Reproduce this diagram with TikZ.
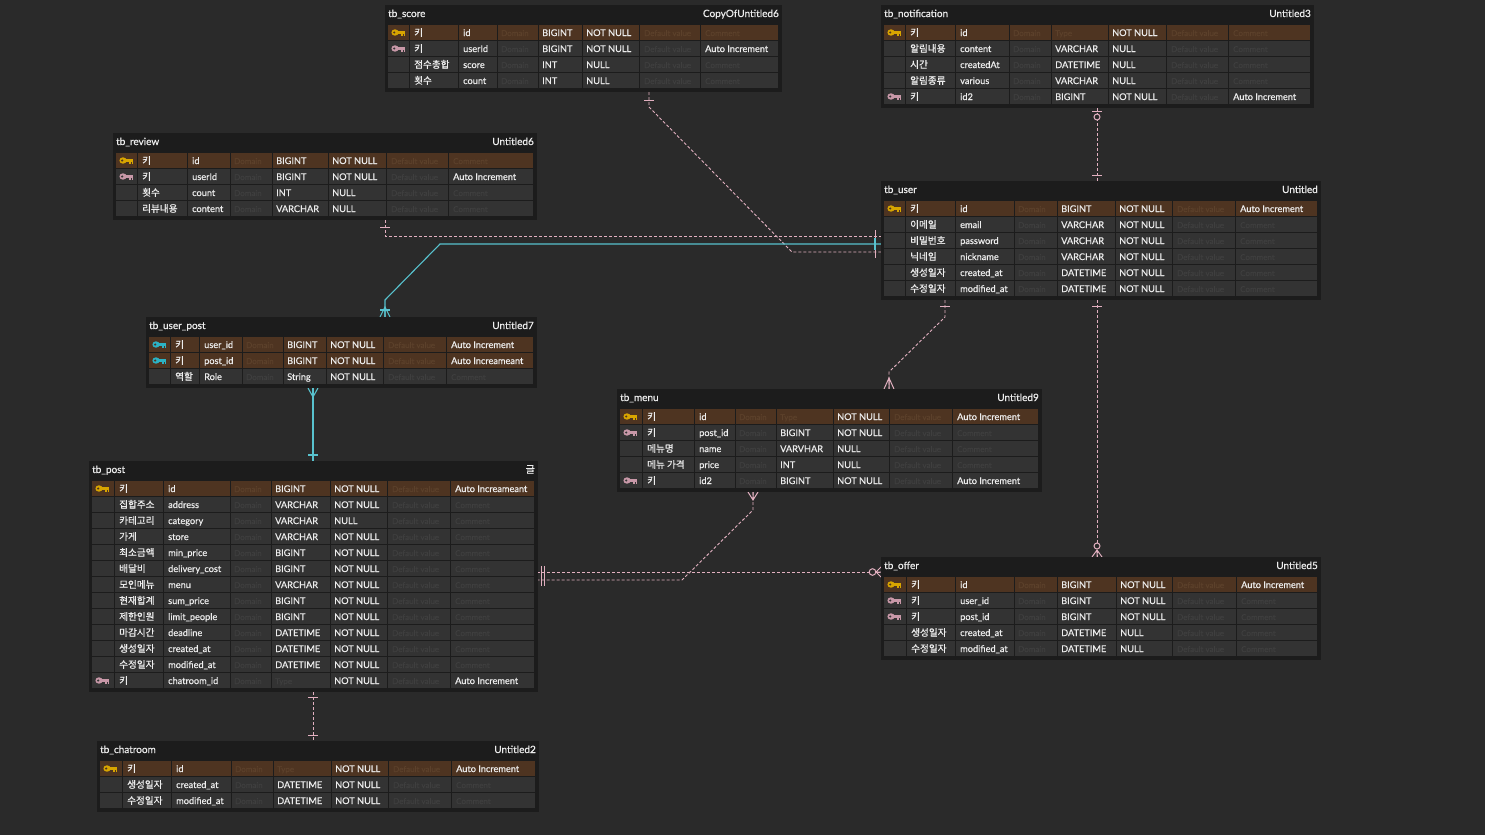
\documentclass[tikz,border=0pt]{standalone}
\usepackage{fontspec}
\setmainfont{Lato}[FakeBold=0.6]
\newfontfamily\kr{Noto Sans CJK KR}[FakeBold=0.7]
\definecolor{bg}{HTML}{2A2A2A}
\definecolor{panelc}{HTML}{1C1C1C}
\definecolor{cell}{HTML}{333333}
\definecolor{pkcell}{HTML}{4E3421}
\definecolor{ph}{HTML}{3F3F3F}
\definecolor{phpk}{HTML}{5C412B}
\definecolor{txt}{HTML}{EDEDED}
\definecolor{pinkc}{HTML}{E2B0C0}
\definecolor{cyanc}{HTML}{58C2CE}
\definecolor{keyY}{HTML}{D8A500}
\definecolor{keyP}{HTML}{C898A8}
\definecolor{keyT}{HTML}{2CB2C4}
\newcommand\setcols[9]{\def\cI{#1}\def\cK{#2}\def\cN{#3}\def\cD{#4}\def\cT{#5}\def\cU{#6}\def\cV{#7}\def\cC{#8}\def\cE{#9}}
\newcommand\tbl[5]{%
 \def\tn{#1}\def\ty{#2}%
 \pgfmathsetmacro\tbpw{\cE+4-(\cI-3)}%
 \pgfmathsetmacro\tbph{23+16*#3}%
 \node[panelbox, minimum width=\tbpw pt, minimum height=\tbph pt, anchor=north west] (#1) at (\cI-3,#2) {};
 \node[titletxt, anchor=base west] (#1-title) at (\cI,#2+12) {#4};
 \node[titletxt, anchor=base east] (#1-cmt) at (\cE+1,#2+12) {#5};
}
\newcommand\keyicon[1]{%
 \pgfmathsetmacro\kx{\cI+7}%
 \fill[#1] (\kx,\rc) ellipse (3.6 and 3.2);
 \fill[\cf] (\kx-0.8,\rc) circle (1.2);
 \fill[#1] (\kx+2.5,\rc-1.3) rectangle (\kx+10,\rc+1.2);
 \fill[#1] (\kx+6.3,\rc+1) rectangle (\kx+7.7,\rc+3.3);
 \fill[#1] (\kx+8.6,\rc+1) rectangle (\kx+10,\rc+3.3);
}
\newcommand\rw[7]{%
 \pgfmathsetmacro\rt{\ty+20+16*(#1-1)}%
 \pgfmathsetmacro\rc{\rt+7.5}%
 \pgfmathsetmacro\rb{\rt+11}%
 \def\isbrown{0}%
 \if Y#2\def\isbrown{1}\fi
 \if T#2\def\isbrown{1}\fi
 \ifnum\isbrown=1 \def\cf{pkcell}\def\pcol{phpk}\else\def\cf{cell}\def\pcol{ph}\fi
 \fill[\cf] (\cI,\rt) rectangle (\cK-1.5,\rt+15);
 \fill[\cf] (\cK,\rt) rectangle (\cN-1.5,\rt+15);
 \fill[\cf] (\cN,\rt) rectangle (\cD-1.5,\rt+15);
 \fill[\cf] (\cD,\rt) rectangle (\cT-1.5,\rt+15);
 \fill[\cf] (\cT,\rt) rectangle (\cU-1.5,\rt+15);
 \fill[\cf] (\cU,\rt) rectangle (\cV-1.5,\rt+15);
 \fill[\cf] (\cV,\rt) rectangle (\cC-1.5,\rt+15);
 \fill[\cf] (\cC,\rt) rectangle (\cE,\rt+15);
 \if Y#2\keyicon{keyY}\fi
 \if P#2\keyicon{keyP}\fi
 \if T#2\keyicon{keyT}\fi
 \node[rowtxt,font=\kr\fontsize{9.6}{11}\selectfont] (\tn-#1k) at (\cK+4,\rb) {#3};
 \node[rowtxt] (\tn-#1n) at (\cN+4,\rb) {#4};
 \node[phtxt,text=\pcol] (\tn-#1d) at (\cD+3,\rb) {Domain};
 \ifx\relax#5\relax
  \node[phtxt,text=\pcol] (\tn-#1t) at (\cT+3,\rb) {Type};
 \else
  \node[rowtxt] (\tn-#1t) at (\cT+3,\rb) {#5};
 \fi
 \node[rowtxt] (\tn-#1u) at (\cU+3,\rb) {#6};
 \node[phtxt,text=\pcol] (\tn-#1v) at (\cV+4,\rb) {Default value};
 \ifx\relax#7\relax
  \node[phtxt,text=\pcol] (\tn-#1c) at (\cC+4,\rb) {Comment};
 \else
  \node[rowtxt] (\tn-#1c) at (\cC+4,\rb) {#7};
 \fi
}
\begin{document}
\begin{tikzpicture}[x=1pt,y=-1pt,
 panelbox/.style={fill=panelc, draw=none, inner sep=0pt, outer sep=0pt},
 titletxt/.style={text=txt, inner sep=0pt, font=\fontsize{10}{12}\selectfont},
 rowtxt/.style={text=txt, inner sep=0pt, anchor=base west, font=\fontsize{9.2}{11}\selectfont},
 phtxt/.style={inner sep=0pt, anchor=base west, font=\fontsize{8}{10}\selectfont},
 pdash/.style={draw=pinkc, line width=0.9pt, dash pattern=on 3pt off 2pt},
 pmark/.style={draw=pinkc, line width=1pt},
 cline/.style={draw=cyanc, line width=1.1pt},
 cmark/.style={draw=cyanc, line width=1.1pt},
 ring/.style={draw=pinkc, line width=1pt, fill=bg}]
\fill[bg] (0,0) rectangle (1485,835);
\useasboundingbox (0,0) rectangle (1485,835);

% ---------------- connectors ----------------
% score -> user
\coordinate (s1) at (649,92); \coordinate (s2) at (649,107);
\coordinate (s3) at (792,252); \coordinate (s4) at (881,252);
\draw[pdash] (s1) -- (s2) -- (s3) -- (s4);
\draw[pmark] (644,100) -- (654,100);
\draw[pmark] (875,246) -- (875,258);
% review -> user
\coordinate (r1) at (385,220); \coordinate (r2) at (385,236); \coordinate (r3) at (881,236);
\draw[pdash] (r1) -- (r2) -- (r3);
\draw[pmark] (380,227) -- (390,227);
\draw[pmark] (875,230) -- (875,242);
% user_post -> user (cyan)
\coordinate (u1) at (385,317); \coordinate (u2) at (385,300);
\coordinate (u3) at (440,244); \coordinate (u4) at (881,244);
\draw[cline] (u1) -- (u2) -- (u3) -- (u4);
\draw[cmark] (380,317) -- (385,307) -- (390,317) (385,307) -- (385,317);
\draw[cmark] (380,310) -- (390,310);
\draw[cmark] (875,238) -- (875,250);
% notification -> user
\coordinate (n1) at (1097,108); \coordinate (n2) at (1097,181);
\draw[pdash] (n1) -- (n2);
\draw[pmark] (1092,111) -- (1102,111);
\draw[ring] (1097,117) circle (3);
\draw[pmark] (1092,175) -- (1102,175);
% user -> menu
\coordinate (m1) at (945,300); \coordinate (m2) at (945,317);
\coordinate (m3) at (889,372); \coordinate (m4) at (889,389);
\draw[pdash] (m1) -- (m2) -- (m3) -- (m4);
\draw[pmark] (940,306) -- (950,306);
\draw[pmark] (884,389) -- (889,378) -- (894,389) (889,378) -- (889,389);
% user -> offer
\coordinate (o1) at (1097,300); \coordinate (o2) at (1097,557);
\draw[pdash] (o1) -- (o2);
\draw[pmark] (1092,306) -- (1102,306);
\draw[pmark] (1092,557) -- (1097,550) -- (1102,557) (1097,550) -- (1097,557);
\draw[ring] (1097,546) circle (3);
% post -> offer
\coordinate (p1) at (537,572); \coordinate (p2) at (881,572);
\draw[pdash] (p1) -- (p2);
\draw[pmark] (881,567) -- (876,572) -- (881,577) (876,572) -- (881,572);
\draw[ring] (872.5,572) circle (3.3);
% menu -> post
\coordinate (q1) at (753,492); \coordinate (q2) at (753,510);
\coordinate (q3) at (682,580); \coordinate (q4) at (537,580);
\draw[pdash] (q1) -- (q2) -- (q3) -- (q4);
\draw[pmark] (748,492) -- (753,500) -- (758,492) (753,500) -- (753,492);
\draw[pmark] (541,566) -- (541,586);
\draw[pmark] (544.5,566) -- (544.5,586);
% post -> chatroom
\coordinate (h1) at (313,692); \coordinate (h2) at (313,741);
\draw[pdash] (h1) -- (h2);
\draw[pmark] (308,697) -- (318,697);
\draw[pmark] (308,735) -- (318,735);
% user_post -> post (cyan)
\coordinate (k1) at (313,388); \coordinate (k2) at (313,461);
\draw[cline] (k1) -- (k2);
\draw[cmark] (308,388) -- (313,397) -- (318,388) (313,397) -- (313,388);
\draw[cmark] (308,455) -- (318,455);

% ---------------- tables ----------------
\setcols{388}{410}{459}{498}{539}{583}{640}{701}{778}
\tbl{score}{5}{4}{tb\_score}{CopyOfUntitled6}
\rw{1}{Y}{키}{id}{BIGINT}{NOT NULL}{}
\rw{2}{P}{키}{userId}{BIGINT}{NOT NULL}{Auto Increment}
\rw{3}{N}{점수총합}{score}{INT}{NULL}{}
\rw{4}{N}{횟수}{count}{INT}{NULL}{}

\setcols{884}{906}{956}{1010}{1052}{1109}{1167}{1229}{1310}
\tbl{notification}{5}{5}{tb\_notification}{Untitled3}
\rw{1}{Y}{키}{id}{}{NOT NULL}{}
\rw{2}{N}{알림내용}{content}{VARCHAR}{NULL}{}
\rw{3}{N}{시간}{createdAt}{DATETIME}{NULL}{}
\rw{4}{N}{알림종류}{various}{VARCHAR}{NULL}{}
\rw{5}{P}{키}{id2}{BIGINT}{NOT NULL}{Auto Increment}

\setcols{116}{138}{188}{231}{273}{329}{387}{449}{533}
\tbl{review}{133}{4}{tb\_review}{Untitled6}
\rw{1}{Y}{키}{id}{BIGINT}{NOT NULL}{}
\rw{2}{P}{키}{userId}{BIGINT}{NOT NULL}{Auto Increment}
\rw{3}{N}{횟수}{count}{INT}{NULL}{}
\rw{4}{N}{리뷰내용}{content}{VARCHAR}{NULL}{}

\setcols{884}{906}{956}{1015}{1058}{1116}{1173}{1236}{1317}
\tbl{user}{181}{6}{tb\_user}{Untitled}
\rw{1}{Y}{키}{id}{BIGINT}{NOT NULL}{Auto Increment}
\rw{2}{N}{이메일}{email}{VARCHAR}{NOT NULL}{}
\rw{3}{N}{비밀번호}{password}{VARCHAR}{NOT NULL}{}
\rw{4}{N}{닉네임}{nickname}{VARCHAR}{NOT NULL}{}
\rw{5}{N}{생성일자}{created\_at}{DATETIME}{NOT NULL}{}
\rw{6}{N}{수정일자}{modified\_at}{DATETIME}{NOT NULL}{}

\setcols{149}{171}{200}{243}{284}{327}{384}{447}{533}
\tbl{userpost}{317}{3}{tb\_user\_post}{Untitled7}
\rw{1}{T}{키}{user\_id}{BIGINT}{NOT NULL}{Auto Increment}
\rw{2}{T}{키}{post\_id}{BIGINT}{NOT NULL}{Auto Increameant}
\rw{3}{N}{역할}{Role}{String}{NOT NULL}{}

\setcols{620}{643}{695}{736}{777}{834}{890}{953}{1038}
\tbl{menu}{389}{5}{tb\_menu}{Untitled9}
\rw{1}{Y}{키}{id}{}{NOT NULL}{Auto Increment}
\rw{2}{P}{키}{post\_id}{BIGINT}{NOT NULL}{}
\rw{3}{N}{메뉴명}{name}{VARVHAR}{NULL}{}
\rw{4}{N}{메뉴 가격}{price}{INT}{NULL}{}
\rw{5}{P}{키}{id2}{BIGINT}{NOT NULL}{Auto Increment}

\setcols{92}{115}{164}{231}{272}{331}{388}{451}{534}
\tbl{post}{461}{13}{tb\_post}{{\kr 글}}
\rw{1}{Y}{키}{id}{BIGINT}{NOT NULL}{Auto Increameant}
\rw{2}{N}{집합주소}{address}{VARCHAR}{NOT NULL}{}
\rw{3}{N}{카테고리}{category}{VARCHAR}{NULL}{}
\rw{4}{N}{가게}{store}{VARCHAR}{NOT NULL}{}
\rw{5}{N}{최소금액}{min\_price}{BIGINT}{NOT NULL}{}
\rw{6}{N}{배달비}{delivery\_cost}{BIGINT}{NOT NULL}{}
\rw{7}{N}{모인메뉴}{menu}{VARCHAR}{NOT NULL}{}
\rw{8}{N}{현재합계}{sum\_price}{BIGINT}{NOT NULL}{}
\rw{9}{N}{제한인원}{limit\_people}{BIGINT}{NOT NULL}{}
\rw{10}{N}{마감시간}{deadline}{DATETIME}{NOT NULL}{}
\rw{11}{N}{생성일자}{created\_at}{DATETIME}{NOT NULL}{}
\rw{12}{N}{수정일자}{modified\_at}{DATETIME}{NOT NULL}{}
\rw{13}{P}{키}{chatroom\_id}{}{NOT NULL}{Auto Increment}

\setcols{884}{907}{956}{1015}{1058}{1117}{1173}{1237}{1317}
\tbl{offer}{557}{5}{tb\_offer}{Untitled5}
\rw{1}{Y}{키}{id}{BIGINT}{NOT NULL}{Auto Increment}
\rw{2}{P}{키}{user\_id}{BIGINT}{NOT NULL}{}
\rw{3}{P}{키}{post\_id}{BIGINT}{NOT NULL}{}
\rw{4}{N}{생성일자}{created\_at}{DATETIME}{NULL}{}
\rw{5}{N}{수정일자}{modified\_at}{DATETIME}{NULL}{}

\setcols{100}{123}{172}{232}{274}{332}{389}{452}{535}
\tbl{chatroom}{741}{3}{tb\_chatroom}{Untitled2}
\rw{1}{Y}{키}{id}{}{NOT NULL}{Auto Increment}
\rw{2}{N}{생성일자}{created\_at}{DATETIME}{NOT NULL}{}
\rw{3}{N}{수정일자}{modified\_at}{DATETIME}{NOT NULL}{}
\end{tikzpicture}
\end{document}
